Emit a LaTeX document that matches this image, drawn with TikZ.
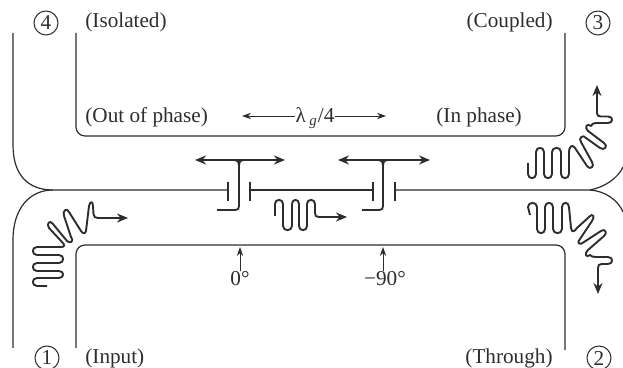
\documentclass[tikz,border=0pt]{standalone}
\usepackage{fontspec}
\setmainfont{Liberation Serif}
\usetikzlibrary{arrows.meta}
\definecolor{inkgray}{RGB}{45,45,45}

\begin{document}
\begin{tikzpicture}[
        x=0.5pt, y=-0.5pt,
        wire/.style={draw=inkgray, line width=0.6pt},
        signal/.style={draw=inkgray, line width=0.95pt, line join=round},
        arrow/.style={-{Stealth[length=5.5pt,width=4.5pt]}},
        twoway/.style={{Stealth[length=5.5pt,width=4.5pt]}-{Stealth[length=5.5pt,width=4.5pt]}},
        thinarrow/.style={draw=inkgray, line width=0.45pt, -{Stealth[length=4.5pt,width=3.2pt]}},
        port/.style={circle, draw=inkgray, line width=0.5pt, minimum size=12pt, inner sep=0pt, text=inkgray, font=\fontsize{10.6}{12}\selectfont},
        lbl/.style={inner sep=0pt, text=inkgray, font=\fontsize{10.6}{12}\selectfont}
    ]
        \useasboundingbox (0,0) rectangle (623,368);
        \clip (0,0) rectangle (623,368);

        % Ports
        \node[port] (p4) at (46,23) {4};
        \node[port] (p3) at (598,23) {3};
        \node[port] (p1) at (47,358) {1};
        \node[port] (p2) at (599,358) {2};

        % Port names
        \node[lbl, anchor=west] (isolated) at (85,22) {(Isolated)};
        \node[lbl, anchor=east] (coupled) at (553,22) {(Coupled)};
        \node[lbl, anchor=west] (input) at (85,358) {(Input)};
        \node[lbl, anchor=east] (through) at (553,358) {(Through)};
        \node[lbl, anchor=west] (outphase) at (85,117) {(Out of phase)};
        \node[lbl, anchor=west] (inphase) at (436,117) {(In phase)};

        % Quarter wave spacing
        \node[lbl] (lambda) at (315,118) {λ\,\textsubscript{\textit{g}}/4};
        \coordinate (lamleft) at (242,116);
        \coordinate (lamright) at (386,116);
        \draw[thinarrow] (lambda.west |- lamleft) -- (lamleft);
        \draw[thinarrow] (lambda.east |- lamright) -- (lamright);

        % Inner guide walls
        \draw[wire, rounded corners=4.5pt] (76,33) -- (76,136) -- (565,136) -- (565,33);
        \draw[wire, rounded corners=4.5pt] (76,348) -- (76,245) -- (565,245) -- (565,350);

        % Outer guide walls
        \draw[wire] (13,33) -- (13,145) .. controls (13,175) and (28,190) .. (53,190) -- (228,190);
        \draw[wire] (13,348) -- (13,240) .. controls (13,208) and (30,190) .. (53,190);
        \draw[wire] (250,190) -- (373,190);
        \draw[wire] (395,190) -- (590,190) .. controls (605,187) and (618,178) .. (623,167);
        \draw[wire] (590,190) .. controls (605,191) and (618,200) .. (623,212);

        % Coupling gaps
        \draw[wire] (228,182) -- (228,201);
        \draw[wire] (250,182) -- (250,201);
        \draw[wire] (373,182) -- (373,201);
        \draw[wire] (395,182) -- (395,201);

        % Coupled waves
        \draw[signal, twoway] (195,160) -- (285,160);
        \draw[signal] (217,210) -- (235,210) .. controls (238,210) and (239,209) .. (239,206) -- (239,165);
        \draw[signal] (235,160) .. controls (238,160) and (239,162) .. (239,165)
            .. controls (239,162) and (240,160) .. (243,160);
        \draw[signal, twoway] (338,160) -- (430,160);
        \draw[signal] (362,210) -- (379,210) .. controls (382,210) and (383,209) .. (383,206) -- (383,165);
        \draw[signal] (379,160) .. controls (382,160) and (383,162) .. (383,165)
            .. controls (383,162) and (384,160) .. (387,160);

        % Input wave
        \draw[signal, arrow] (47,286) -- (37,286) .. controls +(-5.5,0) and +(-5.5,0) .. (37,278)
            -- (59,278) .. controls +(5.5,0) and +(5.5,0) .. (59,271)
            -- (37,271) .. controls +(-5.5,0) and +(-5.5,0) .. (37,263)
            -- (59,263) .. controls +(5.5,0) and +(5.5,0) .. (59,255)
            -- (37,255) .. controls +(-5.5,0) and +(-5.5,0) .. (37,247)
            -- (61,247) .. controls (65,247) and (65,245) .. (62,242)
            -- (49,228) .. controls +(-3,-4.5) and +(-3,-4.5) .. (53,224)
            -- (67,241) .. controls +(3.5,3.5) and +(3.5,3.5) .. (71,237)
            -- (64,216) .. controls +(-2,-5) and +(-2,-5) .. (69,212)
            -- (81,231) .. controls (83,234) and (85,234) .. (86,231)
            -- (89,206) .. controls +(1,-5) and +(0,-5) .. (93,206)
            -- (93.5,214) .. controls (94,217) and (95,218) .. (98,218) -- (128,218);

        % Wave between the gaps
        \draw[signal, arrow] (275,216) -- (275,204) .. controls +(0,-5.5) and +(0,-5.5) .. (283,204)
            -- (283,226) .. controls +(0,5.5) and +(0,5.5) .. (292,226)
            -- (292,204) .. controls +(0,-5.5) and +(0,-5.5) .. (299,204)
            -- (299,226) .. controls +(0,5.5) and +(0,5.5) .. (307,226)
            -- (307,204) .. controls +(0,-5.5) and +(0,-5.5) .. (315,204)
            -- (315,213) .. controls (315,216) and (316,217) .. (319,217) -- (347,217);

        % Coupled port wave
        \draw[signal, arrow] (528,163) -- (528,174) .. controls +(0,5.5) and +(0,5.5) .. (536,174)
            -- (536,152) .. controls +(0,-5.5) and +(0,-5.5) .. (544,152)
            -- (544,174) .. controls +(0,5.5) and +(0,5.5) .. (552,174)
            -- (552,152) .. controls +(0,-5.5) and +(0,-5.5) .. (561,152)
            -- (561,174) .. controls +(0,5.5) and +(0,5.5) .. (569,174)
            -- (569,152) .. controls +(0,-5) and +(-3,-4.5) .. (575,148)
            -- (587,166) .. controls +(3,4.5) and +(3,4.5) .. (592,162)
            -- (581,142) .. controls +(-3,-4) and +(-3,-4) .. (586,138)
            -- (600,148) .. controls +(4.5,3) and +(4.5,3) .. (604,143)
            -- (588,131) .. controls +(-4,-3.5) and +(-4,-3.5) .. (591,126)
            .. controls (592,124) and (593,123) .. (596,123)
            -- (608,123) .. controls +(5.5,0) and +(5.5,0) .. (608,116.5)
            -- (601,116.5) .. controls (598,116.5) and (597,115.5) .. (597,113) -- (597,85);

        % Through port wave
        \draw[signal, arrow] (530,215) -- (528,207) .. controls +(0,-5.5) and +(0,-5.5) .. (537,207)
            -- (537,229) .. controls +(0,5.5) and +(0,5.5) .. (545,229)
            -- (545,207) .. controls +(0,-5.5) and +(0,-5.5) .. (553,207)
            -- (553,229) .. controls +(0,5.5) and +(0,5.5) .. (562,229)
            -- (562,207) .. controls +(0,-5.5) and +(0,-5.5) .. (569,207)
            -- (571,228) .. controls +(1,5) and +(-3,4) .. (577,228)
            -- (589,217) .. controls +(3.5,-4.5) and +(3.5,-4.5) .. (592,221)
            -- (580,239) .. controls +(-4,4) and +(-4,4) .. (584,242)
            -- (601,231) .. controls +(4,-3) and +(4,-3) .. (604,236)
            -- (588,250) .. controls +(-4,3.5) and +(-4,3.5) .. (590,255)
            .. controls (591,256.5) and (593,257) .. (596,257)
            -- (608,257) .. controls +(5.5,0) and +(5.5,0) .. (608,264)
            -- (602,264) .. controls (599,264) and (598,265) .. (598,268) -- (598,294);

        % Phase marks
        \node[lbl] (zero) at (240,279) {0°};
        \node[lbl] (ninety) at (385,279) {−90°};
        \coordinate (zerotip) at (240,247);
        \coordinate (ninetytip) at (383,247);
        \draw[thinarrow] (zero.north -| zerotip) -- (zerotip);
        \draw[thinarrow] (ninety.north -| ninetytip) -- (ninetytip);
    \end{tikzpicture}
\end{document}
